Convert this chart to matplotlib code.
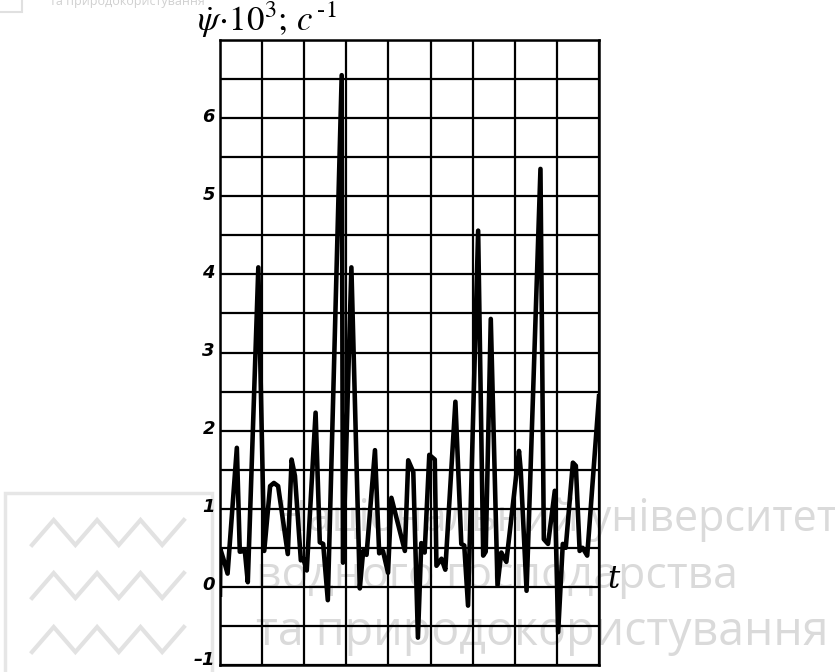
import matplotlib
matplotlib.use("Agg")
import matplotlib.pyplot as plt
from matplotlib.ticker import MultipleLocator

# time in grid-column units (0..9), values of psi_dot*10^3
t = [0.00, 0.01, 0.08, 0.18, 0.40, 0.47, 0.59, 0.66, 0.91, 1.05, 1.19, 1.28, 1.38,
     1.61, 1.70, 1.78, 1.92, 1.98, 2.06, 2.27, 2.37, 2.45, 2.56, 2.89, 2.92, 3.12,
     3.32, 3.40, 3.48, 3.68, 3.78, 3.87, 3.99, 4.07, 4.39, 4.47, 4.59, 4.70, 4.78,
     4.86, 4.97, 5.10, 5.14, 5.26, 5.35, 5.59, 5.73, 5.80, 5.89, 6.13, 6.25, 6.31,
     6.43, 6.59, 6.68, 6.80, 7.10, 7.14, 7.28, 7.61, 7.69, 7.79, 7.95, 8.03, 8.14,
     8.21, 8.38, 8.45, 8.54, 8.61, 8.72, 9.00]
psi = [-0.10, 0.48, 0.36, 0.17, 1.78, 0.45, 0.46, 0.06, 4.09, 0.46, 1.29, 1.33, 1.29,
       0.42, 1.63, 1.42, 0.34, 0.36, 0.21, 2.23, 0.57, 0.55, -0.17, 6.55, 0.31, 4.09,
       -0.02, 0.46, 0.41, 1.75, 0.43, 0.46, 0.18, 1.14, 0.46, 1.62, 1.47, -0.65, 0.56,
       0.44, 1.69, 1.63, 0.27, 0.36, 0.22, 2.37, 0.55, 0.53, -0.24, 4.56, 0.40, 0.45,
       3.43, 0.02, 0.44, 0.32, 1.74, 1.50, -0.05, 5.35, 0.61, 0.55, 1.23, -0.58, 0.55,
       0.50, 1.59, 1.55, 0.46, 0.50, 0.40, 2.44]
ytick_vals = [-1, 0, 1, 2, 3, 4, 5, 6]
ytick_labels = ["\u20131", "0", "1", "2", "3", "4", "5", "6"]

W, H = 835, 672
fig = plt.figure(figsize=(W / 100, H / 100), dpi=100)
fig.patch.set_facecolor("white")

# watermark (behind the chart, very light)
wm_color = "#dadada"
wm_kw = dict(color=wm_color, family="Open Sans", zorder=-2)
fig.text(837 / W, 1 - 520 / H, "Національний університет", ha="right", va="center",
         fontsize=31, **wm_kw)
fig.text(256 / W, 1 - 577 / H, "водного господарства", ha="left", va="center",
         fontsize=32, **wm_kw)
fig.text(256 / W, 1 - 632 / H, "та природокористування", ha="left", va="center",
         fontsize=33.5, **wm_kw)
fig.text(50 / W, 1 - 2 / H, "та природокористування", ha="left", va="center",
         color="#d0d0d0", fontsize=9, family="Open Sans", zorder=-2)

# logo zigzags and frames
for y0 in (520, 573, 627):
    xs, ys = [], []
    for k in range(8):
        xs.append((32 + k * 21.7) / W)
        ys.append(1 - (y0 + (0 if k % 2 == 1 else 25)) / H)
    fig.add_artist(plt.Line2D(xs, ys, color="#e2e2e2", lw=3, zorder=-2,
                              solid_joinstyle="miter"))
fig.add_artist(plt.Rectangle((5 / W, 1 - 700 / H), 207 / W, 207 / H, fill=False,
                             ec="#e6e6e6", lw=2.5, zorder=-2))
fig.add_artist(plt.Rectangle((-0.01, 1 - 12 / H), 30 / W, 20 / H, fill=False,
                             ec="#e0e0e0", lw=1.5, zorder=-2))

ax = fig.add_axes([220 / W, 1 - 665 / H, (599 - 220) / W, (665 - 40) / H])
ax.patch.set_alpha(0)
ax.set_xlim(0, 9)
ax.set_ylim(-1, 7)
ax.xaxis.set_major_locator(MultipleLocator(1))
ax.yaxis.set_major_locator(MultipleLocator(0.5))
ax.grid(True, which="major", color="black", lw=1.6)
ax.set_axisbelow(True)
for s in ax.spines.values():
    s.set_color("black")
    s.set_linewidth(1.8)
ax.tick_params(length=0, labelbottom=False, labelleft=False)

ax.plot(t, psi, color="black", lw=3.3, solid_joinstyle="round", zorder=3)

for v, lab in zip(ytick_vals, ytick_labels):
    off = 0.06 if v == -1 else 0.02
    ax.text(-0.12, v + off, lab, ha="right", va="center", fontsize=13, style="italic",
            weight="bold", family="DejaVu Sans", transform=ax.transData, clip_on=False)

plt.rcParams["mathtext.fontset"] = "stix"
fig.text(197 / W, 1 - 20 / H, r"$\dot{\psi}\!\cdot\!10^{3}$; $c^{\,\text{-}1}$", ha="left",
         va="center", fontsize=25, family="STIXGeneral")
ax.text(9.2, -0.1, "t", ha="left", va="bottom", fontsize=22, style="italic",
        family="DejaVu Serif", clip_on=False)

fig.savefig("out.png", dpi=100, facecolor="white")
